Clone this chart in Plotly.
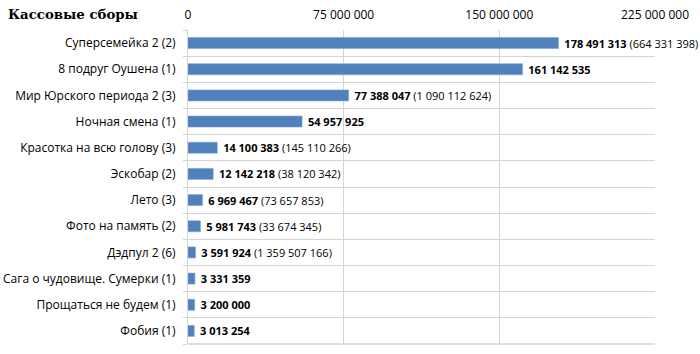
import plotly.graph_objects as go

films = ["Суперсемейка 2 (2)", "8 подруг Оушена (1)", "Мир Юрского периода 2 (3)",
         "Ночная смена (1)", "Красотка на всю голову (3)", "Эскобар (2)", "Лето (3)",
         "Фото на память (2)", "Дэдпул 2 (6)", "Сага о чудовище. Сумерки (1)",
         "Прощаться не будем (1)", "Фобия (1)"]
weekend = [178491313, 161142535, 77388047, 54957925, 14100383, 12142218, 6969467,
           5981743, 3591924, 3331359, 3200000, 3013254]
total = [664331398, None, 1090112624, None, 145110266, 38120342, 73657853,
         33674345, 1359507166, None, None, None]
tick_vals = [0, 75000000, 150000000, 225000000]
tick_text = ["0", "75 000 000", "150 000 000", "225 000 000"]


def fmt(v):
    return f"{v:,}".replace(",", " ")


labels = []
for w, t in zip(weekend, total):
    s = f"\u00a0<b>{fmt(w)}</b>"
    if t is not None:
        s += f" ({fmt(t)})"
    labels.append(s)

pos = list(range(len(films)))
bounds = [i - 0.5 for i in range(len(films) + 1)]
yrange = [len(films) - 0.5, -0.5]

FONT = "Open Sans"
grid = "#d4d4d4"

fig = go.Figure()
fig.add_trace(go.Bar(
    x=weekend, y=pos, orientation="h",
    marker=dict(color="#4F81BD", line=dict(color="#7fa3d2", width=0.6)),
    width=0.42,
    text=labels, textposition="outside", cliponaxis=False, constraintext="none",
    textfont=dict(family=FONT, size=11, color="#000000"),
    hoverinfo="skip",
))
fig.add_trace(go.Scatter(x=[None], y=[None], yaxis="y2", mode="markers",
                         showlegend=False, hoverinfo="skip"))

fig.update_layout(
    width=700, height=354,
    margin=dict(l=188, r=45, t=30, b=10),
    paper_bgcolor="white", plot_bgcolor="white",
    showlegend=False,
    font=dict(family=FONT, size=11, color="#000000"),
    title=dict(text="<b>Кассовые сборы</b>", x=8/700, xanchor="left", xref="container",
               y=1 - 14/354, yanchor="middle", yref="container",
               font=dict(family="DejaVu Serif", size=13.3, color="#000000")),
    yaxis2=dict(
        overlaying="y", side="left", range=yrange, tickvals=bounds,
        ticktext=[""] * len(bounds), showgrid=True, gridcolor=grid, gridwidth=1,
        ticks="outside", ticklen=4, tickcolor=grid, zeroline=False,
        showline=False, automargin=False, fixedrange=True,
    ),
)
fig.update_xaxes(
    side="top", range=[0, 225000000], tickvals=tick_vals, ticktext=tick_text,
    showgrid=True, gridcolor=grid, gridwidth=1, zeroline=False,
    showline=False, ticks="", tickfont=dict(family=FONT, size=12),
    ticklabelstandoff=8, automargin=False,
    fixedrange=True,
)
fig.layout.yaxis.update(
    range=yrange, tickvals=pos, ticktext=films,
    showgrid=False, ticks="", zeroline=False,
    showline=True, linecolor=grid, linewidth=1,
    tickfont=dict(family=FONT, size=12),
    ticklabelstandoff=9, automargin=False,
    fixedrange=True,
)
fig.add_shape(type="line", xref="paper", yref="paper", x0=0, x1=1, y0=0, y1=0,
              line=dict(color=grid, width=1.5))

fig.write_html("out.html")
